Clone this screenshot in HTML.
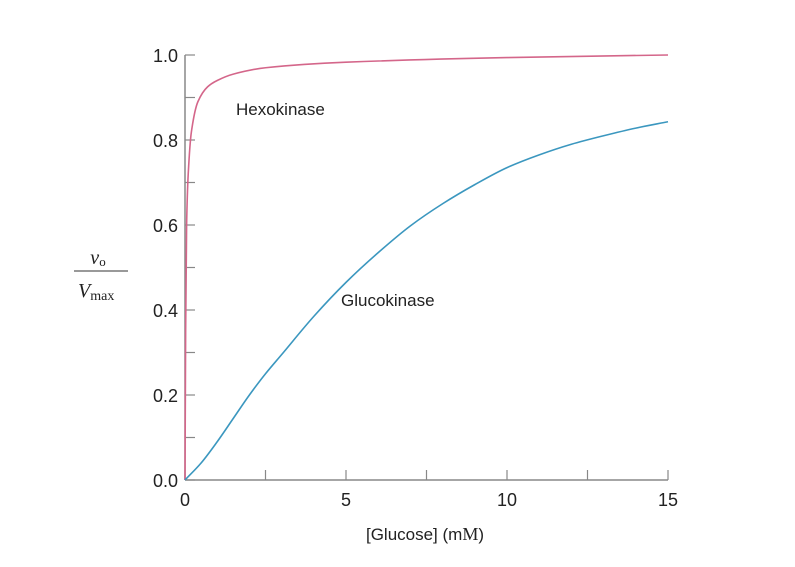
<!DOCTYPE html>
<html><head><meta charset="utf-8"><style>
body{margin:0;background:#fff;width:795px;height:562px;overflow:hidden}
.sans{font-family:"Liberation Sans",sans-serif}
.serif{font-family:"Liberation Serif",serif}
</style></head><body>
<svg width="795" height="562">
<g id="axes"></g>
<g id="series"></g>
<text class="sans" x="236" y="115" font-size="17" fill="#222">Hexokinase</text>
<text class="sans" x="341" y="306" font-size="17" fill="#222">Glucokinase</text>
<text class="sans" x="425" y="540" font-size="17" fill="#222" text-anchor="middle">[Glucose] (m<tspan class="serif" font-size="18">M</tspan>)</text>
<g>
<text class="serif" x="98" y="264" font-size="20" font-style="italic" text-anchor="middle" fill="#222">v<tspan font-style="normal" font-size="13" dy="2">o</tspan></text>
<line x1="74" y1="271" x2="128" y2="271" stroke="#333" stroke-width="1"/>
<text class="serif" x="78" y="297" font-size="20" font-style="italic" fill="#222">V<tspan font-style="normal" font-size="14" dy="3">max</tspan></text>
</g>
</svg>
<script>
const xTicks=[0,2.5,5,7.5,10,12.5,15];
const xTickLabels=["0","","5","","10","","15"];
const yTicks=[0,0.1,0.2,0.3,0.4,0.5,0.6,0.7,0.8,0.9,1.0];
const yTickLabels=["0.0","","0.2","","0.4","","0.6","","0.8","","1.0"];
const hexoX=[0,0.02,0.05,0.1,0.2,0.4,0.7,1.0,1.5,2.5,5,10,15];
const hexoY=[0,0.35,0.6,0.72,0.82,0.89,0.925,0.94,0.955,0.97,0.983,0.994,1.0];
const glucoX=[0,0.5,1,1.5,2,2.5,3,4,5,6,7,8,9,10,11,12,13,14,15];
const glucoY=[0,0.04,0.09,0.145,0.2,0.25,0.295,0.385,0.465,0.535,0.598,0.65,0.695,0.735,0.765,0.79,0.81,0.828,0.843];
const NS="http://www.w3.org/2000/svg";
const X=v=>185+v*(668-185)/15, Y=v=>480-v*425;
const ax=document.getElementById('axes'), se=document.getElementById('series');
function mk(t,a,p){const e=document.createElementNS(NS,t);for(const k in a)e.setAttribute(k,a[k]);p.appendChild(e);return e;}
let l=mk('line',{x1:185,y1:Y(1),x2:185,y2:480,stroke:'#888','stroke-width':1.5},ax);


l=mk('line',{x1:185,y1:480,x2:668,y2:480,stroke:'#888','stroke-width':1.5},ax);


yTicks.forEach((v,i)=>{
 const t=mk('line',{x1:185,x2:195,y1:Y(v),y2:Y(v),stroke:'#888','stroke-width':1.2},ax);
 
 
 if(yTickLabels[i]){const tx=mk('text',{class:'sans',x:178,y:Y(v)+7,'font-size':18,'text-anchor':'end',fill:'#222'},ax);tx.textContent=yTickLabels[i];
 
 }
});
xTicks.forEach((v,i)=>{
 const t=mk('line',{x1:X(v),x2:X(v),y1:470,y2:480,stroke:'#888','stroke-width':1.2},ax);
 
 
 if(xTickLabels[i]){const tx=mk('text',{class:'sans',x:X(v),y:506,'font-size':18,'text-anchor':'middle',fill:'#222'},ax);tx.textContent=xTickLabels[i];
 
 }
});
function path(xs,ys){
 const n=xs.length,d=[],m=[];
 for(let i=0;i<n-1;i++)d.push((ys[i+1]-ys[i])/(xs[i+1]-xs[i]));
 m[0]=d[0];m[n-1]=d[n-2];
 for(let i=1;i<n-1;i++){m[i]=(d[i-1]*d[i]<=0)?0:2/(1/d[i-1]+1/d[i]);}
 let s=`M${X(xs[0])},${Y(ys[0])}`;
 for(let i=0;i<n-1;i++){const h=xs[i+1]-xs[i];
  s+=` C${X(xs[i]+h/3)},${Y(ys[i]+m[i]*h/3)} ${X(xs[i+1]-h/3)},${Y(ys[i+1]-m[i+1]*h/3)} ${X(xs[i+1])},${Y(ys[i+1])}`;}
 return s;}
let h=mk('path',{d:path(hexoX,hexoY),fill:'none',stroke:'#d4668a','stroke-width':1.6},se);


let g=mk('path',{d:path(glucoX,glucoY),fill:'none',stroke:'#3b97bf','stroke-width':1.6},se);


</script>
</body></html>
